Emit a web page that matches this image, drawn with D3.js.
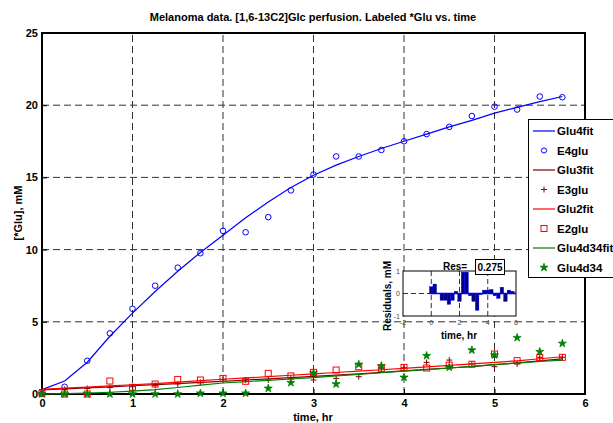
<!DOCTYPE html>
<html><head><meta charset="utf-8">
<script src="https://cdn.jsdelivr.net/npm/d3@7"></script>
<style>
body{margin:0;background:#fff;}
svg{font-family:"Liberation Sans",Arial,sans-serif;}
</style></head>
<body><svg id="c" width="613" height="423"></svg>
<script>
const times = [0,0.25,0.5,0.75,1,1.25,1.5,1.75,2,2.25,2.5,2.75,3,3.25,3.5,3.75,4,4.25,4.5,4.75,5,5.25,5.5,5.75];
const glu4fit = [0.3,0.9,2.2,4.0,5.6,7.1,8.5,9.8,11.0,12.2,13.3,14.3,15.15,15.85,16.45,17.0,17.5,18.0,18.5,18.95,19.45,19.85,20.25,20.6];
const e4glu = [0,0.5,2.3,4.2,5.9,7.5,8.75,9.75,11.3,11.2,12.25,14.1,15.2,16.45,16.45,16.9,17.5,18.0,18.5,19.25,19.9,19.7,20.6,20.55];
const glu3fit = [0.28,0.35,0.42,0.5,0.57,0.65,0.72,0.8,0.88,0.97,1.05,1.13,1.22,1.31,1.4,1.5,1.6,1.7,1.8,1.9,2.03,2.15,2.3,2.43];
const e3glu = [0.3,0.32,0.38,0.45,0.5,0.6,0.7,0.8,1.0,0.97,0.97,1.08,0.97,1.08,1.2,1.8,1.82,2.19,2.35,2.08,1.89,2.08,2.54,2.54];
const glu2fit = [0.32,0.4,0.48,0.56,0.64,0.72,0.82,0.92,1.02,1.11,1.2,1.3,1.39,1.49,1.58,1.68,1.78,1.88,1.98,2.08,2.19,2.3,2.44,2.58];
const e2glu = [0.05,0,0,0.9,0.46,0.69,1.01,0.97,1.08,0.88,1.43,1.25,1.5,1.66,1.89,1.77,1.84,1.8,2.0,2.06,2.77,2.31,2.52,2.54];
const glu4d34fit = [0,0.02,0.06,0.12,0.2,0.3,0.45,0.62,0.76,0.86,0.95,1.04,1.14,1.25,1.36,1.47,1.58,1.69,1.8,1.91,2.03,2.14,2.25,2.35];
const glu4d34 = [0,0,0,0,0,0,0,0.05,0.05,0.05,0.39,0.78,1.45,0.69,2.05,1.95,1.15,2.65,1.85,3.04,2.7,3.9,2.93,3.5];
const residuals = [0.3,0.42,0.0,-0.3,-0.3,-0.48,-0.3,0.1,-0.35,0.95,0.95,-0.1,-0.35,-0.75,-0.05,0.15,0.15,0.18,-0.1,-0.22,0.28,-0.35,0.15,0.1];
const xTicks = [0,1,2,3,4,5,6];
const yTicks = [0,5,10,15,20,25];
const insetXTicks = [-2,0,2,4,6];
const insetYTicks = [-1,0,1];
const legendNames = ["Glu4fit","E4glu","Glu3fit","E3glu","Glu2fit","E2glu","Glu4d34fit","Glu4d34"];
const resValue = "0.275";

const svg = d3.select("#c");
const x = d3.scaleLinear().domain([0,6]).range([42,585]);
const y = d3.scaleLinear().domain([0,25]).range([394,33]);

svg.append("text").attr("x",313).attr("y",21).attr("text-anchor","middle")
  .attr("font-size",11).attr("font-weight","bold").text("Melanoma data. [1,6-13C2]Glc perfusion. Labeled *Glu vs. time");

const g = svg.append("g");
g.selectAll("line.gx").data(xTicks.slice(1,-1)).join("line")
  .attr("x1",d=>x(d)).attr("x2",d=>x(d)).attr("y1",y(0)).attr("y2",y(25))
  .attr("stroke","#333").attr("stroke-dasharray","7,4").attr("stroke-width",1);
g.selectAll("line.gy").data(yTicks.slice(1,-1)).join("line")
  .attr("y1",d=>y(d)).attr("y2",d=>y(d)).attr("x1",x(0)).attr("x2",x(6))
  .attr("stroke","#333").attr("stroke-dasharray","7,4").attr("stroke-width",1);

const xAxis = svg.append("g").attr("transform",`translate(0,${y(0)})`)
  .call(d3.axisBottom(x).tickValues(xTicks).tickSize(-5).tickPadding(5).tickFormat(d3.format("d")));
const yAxis = svg.append("g").attr("transform",`translate(${x(0)},0)`)
  .call(d3.axisLeft(y).tickValues(yTicks).tickSize(-5).tickPadding(4).tickFormat(d3.format("d")));
[xAxis,yAxis].forEach(a=>{
  a.select(".domain").remove();
  a.selectAll("text").attr("font-size",11).attr("font-weight","bold").attr("font-family","Liberation Sans, Arial, sans-serif").attr("fill","#000");
  a.selectAll("line").attr("stroke","#000");
});
svg.append("rect").attr("x",x(0)).attr("y",y(25)).attr("width",x(6)-x(0)).attr("height",y(0)-y(25))
  .attr("fill","none").attr("stroke","#000").attr("stroke-width",2);

svg.append("text").attr("x",313).attr("y",421).attr("text-anchor","middle")
  .attr("font-size",11).attr("font-weight","bold").text("time, hr");
svg.append("text").attr("transform","translate(22,213) rotate(-90)").attr("text-anchor","middle")
  .attr("font-size",11).attr("font-weight","bold").text("[*Glu], mM");

const line = d3.line().x((d,i)=>x(times[i])).y(d=>y(d));
const fits = [[glu4fit,"#0000ff"],[glu3fit,"#800000"],[glu2fit,"#ff0000"],[glu4d34fit,"#008000"]];
const star = d3.symbol().type(d3.symbolStar).size(20);

function drawFit(arr,col){
  svg.append("path").attr("d",line(arr)).attr("fill","none").attr("stroke",col).attr("stroke-width",1.2);
}
function drawCircles(arr){
  svg.append("g").selectAll("circle").data(arr).join("circle")
    .attr("cx",(d,i)=>x(times[i])).attr("cy",d=>y(d)).attr("r",2.8)
    .attr("fill","none").attr("stroke","#0000ff").attr("stroke-width",1);
}
function drawPlus(arr){
  svg.append("g").selectAll("path").data(arr).join("path")
    .attr("d",(d,i)=>{const cx=x(times[i]),cy=y(d);return `M${cx-3},${cy}H${cx+3}M${cx},${cy-3}V${cy+3}`;})
    .attr("stroke","#800000").attr("stroke-width",1);
}
function drawSquares(arr){
  svg.append("g").selectAll("rect").data(arr).join("rect")
    .attr("x",(d,i)=>x(times[i])-3).attr("y",d=>y(d)-3).attr("width",6).attr("height",6)
    .attr("fill","none").attr("stroke","#ff0000").attr("stroke-width",1);
}
function drawStars(arr){
  svg.append("g").selectAll("path").data(arr).join("path")
    .attr("transform",(d,i)=>`translate(${x(times[i])},${y(d)})`).attr("d",star)
    .attr("fill","#008000").attr("stroke","#008000").attr("stroke-width",0.8);
}

drawFit(glu4fit,"#0000ff"); drawCircles(e4glu);
drawFit(glu3fit,"#800000"); drawPlus(e3glu);
drawFit(glu2fit,"#ff0000"); drawSquares(e2glu);
drawFit(glu4d34fit,"#008000"); drawStars(glu4d34);

const lg = svg.append("g");
lg.append("rect").attr("x",528.5).attr("y",119.5).attr("width",100).attr("height",158)
  .attr("fill","#fff").attr("stroke","#000").attr("stroke-width",1);
const ly = d3.scaleLinear().domain([0,7]).range([131,267.5]);
legendNames.forEach((name,i)=>{
  const yy = ly(i);
  if(i%2===0){
    lg.append("line").attr("x1",533).attr("x2",555).attr("y1",yy).attr("y2",yy)
      .attr("stroke",fits[i/2][1]).attr("stroke-width",1.2);
  } else {
    const cx=544;
    if(i===1) lg.append("circle").attr("cx",cx).attr("cy",yy).attr("r",2.6).attr("fill","none").attr("stroke","#0000ff");
    if(i===3) lg.append("path").attr("d",`M${cx-3},${yy}H${cx+3}M${cx},${yy-3}V${yy+3}`).attr("stroke","#800000");
    if(i===5) lg.append("rect").attr("x",cx-3).attr("y",yy-3).attr("width",6).attr("height",6).attr("fill","none").attr("stroke","#ff0000");
    if(i===7) lg.append("path").attr("transform",`translate(${cx},${yy})`).attr("d",star).attr("fill","#008000").attr("stroke","#008000").attr("stroke-width",0.8);
  }
  lg.append("text").attr("x",557).attr("y",yy+4.3).attr("font-size",11.5).attr("font-weight","bold").text(name);
});

const ix = d3.scaleLinear().domain([-2,6]).range([403,516]);
const iy = d3.scaleLinear().domain([-1,1]).range([316,271]);
const ins = svg.append("g");
ins.append("rect").attr("x",ix(-2)).attr("y",iy(1)).attr("width",ix(6)-ix(-2)).attr("height",iy(-1)-iy(1)).attr("fill","#fff");
ins.selectAll("line.igx").data(insetXTicks.slice(1,-1)).join("line")
  .attr("x1",d=>ix(d)).attr("x2",d=>ix(d)).attr("y1",iy(-1)).attr("y2",iy(1))
  .attr("stroke","#333").attr("stroke-dasharray","5,3");
ins.append("line").attr("x1",ix(-2)).attr("x2",ix(6)).attr("y1",iy(0)).attr("y2",iy(0))
  .attr("stroke","#333").attr("stroke-dasharray","5,3");
const bw = ix(0.25)-ix(0);
ins.selectAll("rect.bar").data(residuals).join("rect")
  .attr("x",(d,i)=>ix(times[i])-bw/2).attr("width",bw)
  .attr("y",d=>Math.min(iy(d),iy(0))).attr("height",d=>Math.abs(iy(d)-iy(0)))
  .attr("fill","#000080").attr("stroke","#0000ff").attr("stroke-width",0.4);
ins.append("line").attr("x1",ix(times[0])-bw/2).attr("x2",ix(6)).attr("y1",iy(0)).attr("y2",iy(0))
  .attr("stroke","#0000ff").attr("stroke-width",1.5);
ins.append("rect").attr("x",ix(-2)).attr("y",iy(1)).attr("width",ix(6)-ix(-2)).attr("height",iy(-1)-iy(1))
  .attr("fill","none").attr("stroke","#000").attr("stroke-width",1);
ins.selectAll("text.itx").data(insetXTicks).join("text")
  .attr("x",d=>ix(d)).attr("y",325).attr("text-anchor","middle").attr("font-size",7).attr("fill","#444").text(d=>d);
ins.selectAll("text.ity").data(insetYTicks).join("text")
  .attr("x",400).attr("y",d=>iy(d)+2.5).attr("text-anchor","end").attr("font-size",7).attr("fill","#444").text(d=>d);
ins.append("text").attr("x",459).attr("y",339).attr("text-anchor","middle").attr("font-size",10).attr("font-weight","bold").text("time, hr");
ins.append("text").attr("transform","translate(391,296) rotate(-90)").attr("text-anchor","middle").attr("font-size",10).attr("font-weight","bold").text("Residuals, mM");
ins.append("text").attr("x",455).attr("y",270).attr("text-anchor","middle").attr("font-size",10).attr("font-weight","bold").text("Res=");
ins.append("rect").attr("x",475.5).attr("y",259.5).attr("width",29).attr("height",15).attr("fill","#fff").attr("stroke","#000");
ins.append("text").attr("x",490).attr("y",271).attr("text-anchor","middle").attr("font-size",10).attr("font-weight","bold").text(resValue);
</script></body></html>
